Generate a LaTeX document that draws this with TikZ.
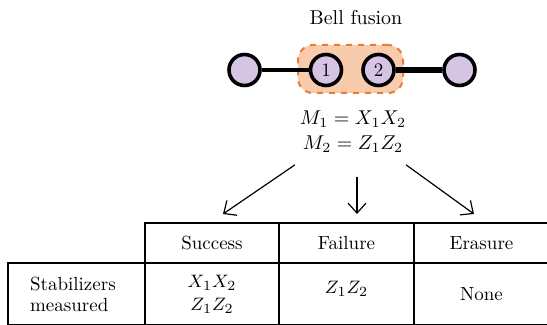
\documentclass[tikz,border=0pt]{standalone}
\usetikzlibrary{arrows.meta, positioning, calc}
\definecolor{FuseOrange}{HTML}{ED7D31}
\definecolor{FuseFill}{HTML}{F8CBAD}
\definecolor{QubitLilac}{HTML}{D6C4E4}

\begin{document}
\begin{tikzpicture}[x=0.5pt, y=-0.5pt,
    qubit/.style={circle, draw=black, fill=QubitLilac, line width=1.8pt,
                  minimum size=15.5pt, inner sep=0pt, font=\fontsize{9.5}{11}\selectfont},
    cell/.style={draw, line width=0.8pt, minimum height=20pt, inner sep=0pt,
                 font=\fontsize{9.5}{10.5}\selectfont, align=center},
    outcome/.style={-{Straight Barb[length=5pt, width=9pt]}, line width=0.6pt}]
  \useasboundingbox (0,0) rectangle (547,325);

  % fusion region and qubits
  \node[fill=FuseFill, draw=FuseOrange, dashed, line width=1pt, rounded corners=7.5pt,
        minimum width=52.5pt, minimum height=24pt] (fuse) at (350.5,69) {};
  \node[qubit] (left) at (244.5,70) {};
  \node[qubit] (q1) at (326,70) {1};
  \node[qubit] (q2) at (378.5,70) {2};
  \node[qubit] (right) at (459.5,70) {};
  \draw[line width=2.3pt] (left) -- (q1);
  \draw[line width=3pt] (q2) -- (right);
  \node[font=\fontsize{10}{12}\selectfont] (title) at (356,18) {Bell fusion};

  % measurements
  \node[align=center, font=\fontsize{10}{12.5}\selectfont] (meas) at (353,132)
        {$M_1 = X_1X_2$\\$M_2 = Z_1Z_2$};

  % outcome table
  \node[cell, minimum width=67pt] (succ) at (212,243) {Success};
  \node[cell, minimum width=67.5pt] (fail) at (346.5,243) {Failure};
  \node[cell, minimum width=67.5pt] (eras) at (481.5,243) {Erasure};
  \node[cell, minimum width=68.5pt, minimum height=31pt] (stab) at (76.5,294) {};
  \node[align=left, font=\fontsize{9.5}{10.5}\selectfont, anchor=west] (stabtxt) at (23,294)
        {Stabilizers\\measured};
  \node[cell, minimum width=67pt, minimum height=31pt] (succm) at (212,294)
        {$X_1X_2$\\[1pt]$Z_1Z_2$};
  \node[cell, minimum width=67.5pt, minimum height=31pt] (failm) at (346.5,294) {};
  \node[font=\fontsize{9.5}{10.5}\selectfont] (failtxt) at (346.5,289) {$Z_1Z_2$};
  \node[cell, minimum width=67.5pt, minimum height=31pt] (erasm) at (481.5,294) {None};

  % arrows to outcomes
  \coordinate (a1) at (223,214);
  \coordinate (a2) at (357,214);
  \coordinate (a3) at (474,214);
  \draw[outcome] (meas.south west) ++(2,5) coordinate (s1) (s1) -- (a1);
  \draw[outcome] (meas.south) ++(4,17) coordinate (s2) (s2) -- (a2);
  \draw[outcome] (meas.south east) ++(-7,5) coordinate (s3) (s3) -- (a3);
\end{tikzpicture}
\end{document}
